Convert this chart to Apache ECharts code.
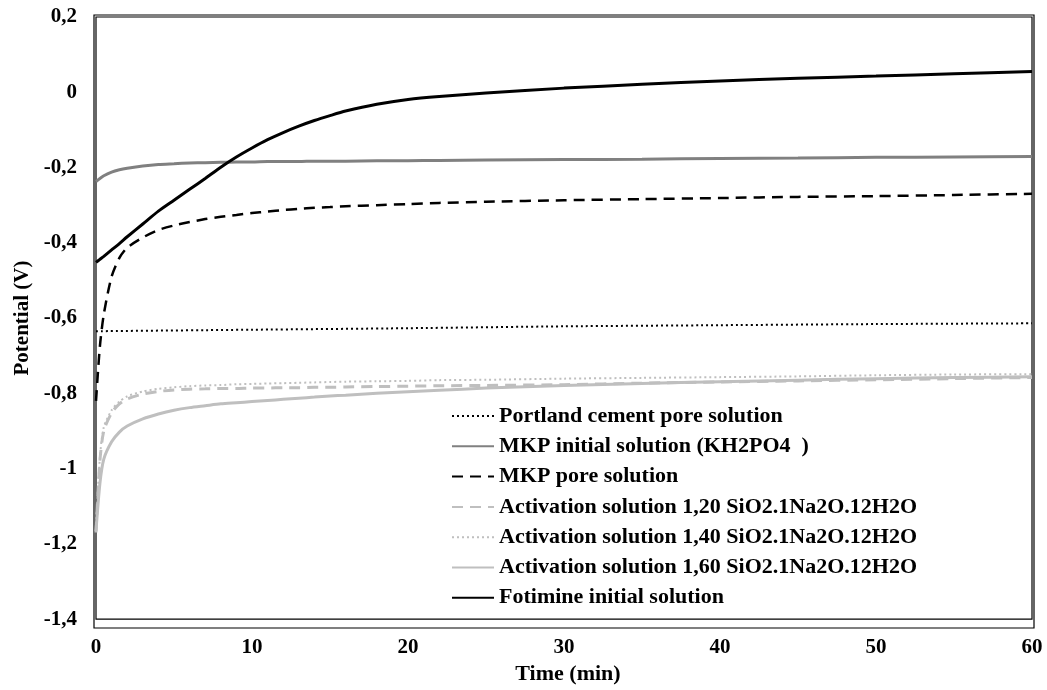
<!DOCTYPE html>
<html>
<head>
<meta charset="utf-8">
<script src="https://cdn.jsdelivr.net/npm/echarts@6/dist/echarts.min.js"></script>
<style>
  html, body { margin: 0; padding: 0; background: #fff; }
  #chart { width: 1047px; height: 690px; }
</style>
</head>
<body>
<div id="chart"></div>
<script>
// time (min) where the curves were read
var times = [0, 0.25, 0.5, 1, 1.5, 2, 3, 4, 5, 6, 7, 8, 9, 10, 11, 12, 13, 14, 15, 16, 18, 20, 22, 25, 30, 35, 40, 45, 50, 55, 60];
var portlandTimes = [0, 10, 20, 30, 40, 50, 60];

var portland = [-0.635, -0.631, -0.627, -0.622, -0.619, -0.616, -0.614];
var mkpInitial = [-0.237, -0.229, -0.222, -0.212, -0.206, -0.202, -0.196, -0.192, -0.190, -0.188, -0.187, -0.186, -0.185, -0.185, -0.184, -0.184, -0.184, -0.183, -0.183, -0.183, -0.182, -0.182, -0.181, -0.180, -0.179, -0.178, -0.176, -0.175, -0.173, -0.172, -0.171];
var mkpPore = [-0.82, -0.675, -0.59, -0.49, -0.44, -0.413, -0.386, -0.366, -0.354, -0.345, -0.337, -0.331, -0.326, -0.321, -0.317, -0.313, -0.310, -0.307, -0.305, -0.303, -0.300, -0.297, -0.294, -0.291, -0.287, -0.284, -0.281, -0.278, -0.276, -0.273, -0.27];
var act120 = [-1.17, -0.98, -0.90, -0.852, -0.828, -0.815, -0.802, -0.795, -0.791, -0.789, -0.788, -0.787, -0.787, -0.786, -0.786, -0.785, -0.785, -0.784, -0.784, -0.783, -0.782, -0.781, -0.780, -0.779, -0.777, -0.773, -0.770, -0.767, -0.764, -0.761, -0.758];
var act140 = [-1.16, -0.97, -0.89, -0.845, -0.822, -0.808, -0.795, -0.788, -0.784, -0.781, -0.779, -0.778, -0.776, -0.775, -0.774, -0.773, -0.772, -0.771, -0.770, -0.769, -0.768, -0.767, -0.765, -0.764, -0.761, -0.759, -0.757, -0.755, -0.752, -0.750, -0.749];
var act160 = [-1.166, -1.04, -0.975, -0.929, -0.903, -0.887, -0.868, -0.855, -0.845, -0.838, -0.833, -0.828, -0.825, -0.822, -0.819, -0.816, -0.813, -0.810, -0.807, -0.805, -0.800, -0.796, -0.792, -0.786, -0.779, -0.774, -0.769, -0.765, -0.761, -0.758, -0.756];
var fotimine = [-0.452, -0.444, -0.436, -0.419, -0.402, -0.384, -0.350, -0.316, -0.287, -0.258, -0.229, -0.199, -0.172, -0.148, -0.126, -0.107, -0.090, -0.075, -0.062, -0.050, -0.032, -0.019, -0.011, -0.002, 0.011, 0.021, 0.030, 0.037, 0.043, 0.049, 0.055];

var yTicks = [0.2, 0, -0.2, -0.4, -0.6, -0.8, -1, -1.2, -1.4];
var xTicks = [0, 10, 20, 30, 40, 50, 60];

function pairs(xs, ys) {
  return ys.map(function (v, i) { return [xs[i], v]; });
}

var font = "Liberation Serif";
var chart = echarts.init(document.getElementById("chart"));

function line(name, xs, ys, color, width, type) {
  return {
    name: name,
    type: "line",
    xAxisIndex: 0,
    yAxisIndex: 0,
    data: pairs(xs, ys),
    showSymbol: false,
    symbol: "none",
    smooth: 0.25,
    lineStyle: { color: color, width: width, type: type },
    itemStyle: { color: color },
    z: 3
  };
}

var option = {
  animation: false,
  backgroundColor: "#fff",
  grid: [
    { left: 96, right: 15, top: 17, bottom: 64, show: true, borderColor: "#000", borderWidth: 1.2, backgroundColor: "transparent" },
    { left: 94, right: 13, top: 15, bottom: 62, show: true, borderColor: "#000", borderWidth: 1.2, backgroundColor: "transparent" }
  ],
  legend: {
    orient: "vertical",
    left: 446,
    top: 400,
    itemWidth: 42,
    itemHeight: 14,
    itemGap: 8.3,
    itemStyle: { opacity: 0 },
    textStyle: { fontFamily: font, fontWeight: "bold", fontSize: 22, color: "#000" },
    data: [
      "Portland cement pore solution",
      "MKP initial solution (KH2PO4  )",
      "MKP pore solution",
      "Activation solution 1,20 SiO2.1Na2O.12H2O",
      "Activation solution 1,40 SiO2.1Na2O.12H2O",
      "Activation solution 1,60 SiO2.1Na2O.12H2O",
      "Fotimine initial solution"
    ]
  },
  xAxis: [
    {
      type: "value",
      gridIndex: 0,
      min: xTicks[0],
      max: xTicks[xTicks.length - 1],
      interval: 10,
      name: "Time (min)",
      nameLocation: "middle",
      nameGap: 39,
      nameTextStyle: { fontFamily: font, fontWeight: "bold", fontSize: 22, color: "#000", padding: [0, 0, 0, 8] },
      axisLine: { show: false },
      axisTick: { show: false },
      splitLine: { show: false },
      axisLabel: { fontFamily: font, fontWeight: "bold", fontSize: 21, color: "#000", margin: 18 }
    },
    { type: "value", gridIndex: 1, show: false, min: 0, max: 1 }
  ],
  yAxis: [
    {
      type: "value",
      gridIndex: 0,
      min: yTicks[yTicks.length - 1],
      max: yTicks[0],
      interval: 0.2,
      name: "Potential (V)",
      nameLocation: "middle",
      nameGap: 63,
      nameTextStyle: { fontFamily: font, fontWeight: "bold", fontSize: 21, color: "#000" },
      axisLine: { show: false },
      axisTick: { show: false },
      splitLine: { show: false },
      axisLabel: {
        fontFamily: font, fontWeight: "bold", fontSize: 21, color: "#000", margin: 19,
        formatter: function (v) {
          var r = Math.round(v * 10) / 10;
          return String(r).replace(".", ",");
        }
      }
    },
    { type: "value", gridIndex: 1, show: false, min: 0, max: 1 }
  ],
  series: [
    line("Portland cement pore solution", portlandTimes, portland, "#000", 2, [2, 3]),
    line("MKP initial solution (KH2PO4  )", times, mkpInitial, "#808080", 3, "solid"),
    line("MKP pore solution", times, mkpPore, "#000", 2.5, [11, 7]),
    line("Activation solution 1,20 SiO2.1Na2O.12H2O", times, act120, "#bfbfbf", 3, [11, 7]),
    line("Activation solution 1,40 SiO2.1Na2O.12H2O", times, act140, "#bfbfbf", 2, [2, 3]),
    line("Activation solution 1,60 SiO2.1Na2O.12H2O", times, act160, "#bfbfbf", 3, "solid"),
    line("Fotimine initial solution", times, fotimine, "#000", 3, "solid")
  ]
};

chart.setOption(option);
window.addEventListener("resize", function () {
  chart.resize();
});
</script>
</body>
</html>
